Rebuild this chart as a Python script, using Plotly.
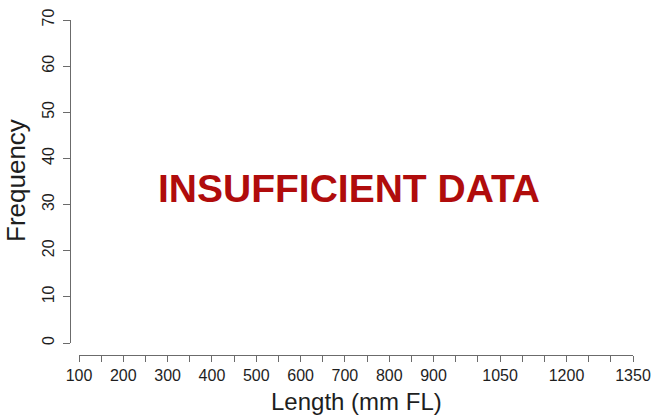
import plotly.graph_objects as go

# Observed fork lengths (mm FL) - none available for this stock
lengths = []

# Axis definitions
y_ticks = [0, 10, 20, 30, 40, 50, 60, 70]
x_ticks = list(range(100, 1351, 50))
x_labelled = [100, 200, 300, 400, 500, 600, 700, 800, 900, 1050, 1200, 1350]
x_text = [str(v) if v in x_labelled else "" for v in x_ticks]

W, H = 652, 415
FONT = "Liberation Sans, Arial, sans-serif"
AXIS_COL = "#6b6b6b"
TEXT_COL = "#1e1e1e"

fig = go.Figure()
fig.add_trace(go.Histogram(x=lengths, xbins=dict(start=100, end=1350, size=50),
                           marker_color="#9a9a9a", showlegend=False))

fig.update_layout(
    width=W, height=H,
    margin=dict(l=0, r=0, t=0, b=0),
    paper_bgcolor="white", plot_bgcolor="white",
    font=dict(family=FONT, color=TEXT_COL, size=16),
    xaxis=dict(
        domain=[79 / W, 633 / W], range=[100, 1350],
        anchor="free", position=(H - 355) / H,
        tickmode="array", tickvals=x_ticks, ticktext=x_text,
        ticks="outside", ticklen=6, tickwidth=1, tickcolor=AXIS_COL,
        showline=True, linecolor=AXIS_COL, linewidth=1,
        showgrid=False, zeroline=False, automargin=False,
        ticklabelstandoff=0,
        tickfont=dict(size=16, color=TEXT_COL, family=FONT),
    ),
    yaxis=dict(
        domain=[(H - 343) / H, (H - 20) / H], range=[0, 70],
        anchor="free", position=70 / W,
        tickmode="array", tickvals=y_ticks,
        ticks="outside", ticklen=7, tickwidth=1, tickcolor=AXIS_COL,
        tickangle=-90, ticklabelstandoff=3,
        showline=True, linecolor=AXIS_COL, linewidth=1,
        showgrid=False, zeroline=False, automargin=False,
        tickfont=dict(size=16, color=TEXT_COL, family=FONT),
    ),
    annotations=[
        dict(text="Length (mm FL)", xref="paper", yref="paper",
             x=356 / W, y=(H - 401) / H, xanchor="center", yanchor="middle",
             showarrow=False, font=dict(size=24, color=TEXT_COL, family=FONT)),
        dict(text="Frequency", xref="paper", yref="paper",
             x=16 / W, y=(H - 181) / H, xanchor="center", yanchor="middle",
             textangle=-90, showarrow=False,
             font=dict(size=26, color=TEXT_COL, family=FONT)),
        dict(text="<b>INSUFFICIENT DATA</b>", xref="paper", yref="paper",
             x=349 / W, y=(H - 188) / H, xanchor="center", yanchor="middle",
             showarrow=False, font=dict(size=39, color="#b00c0c", family=FONT)),
    ],
)

fig.write_html("out.html")
